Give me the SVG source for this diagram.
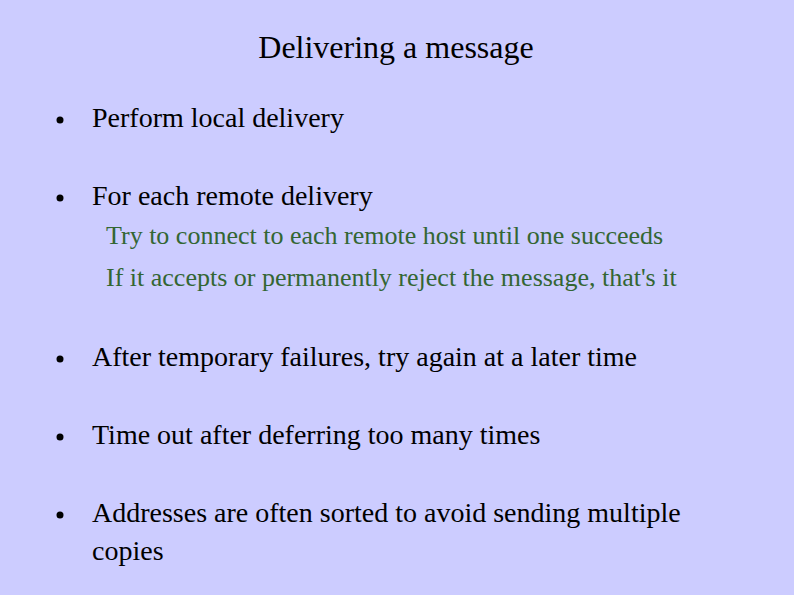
<svg xmlns="http://www.w3.org/2000/svg" width="794" height="595" viewBox="0 0 794 595">
<style>
text{font-family:"Liberation Serif",serif;fill:#000}
.b{font-size:28px}
.s{font-size:26px;fill:#336633}
</style>
<rect width="794" height="595" fill="#ccccff"/>
<text x="396" y="58" text-anchor="middle" font-size="32">Delivering a message</text>
<g fill="#000"><circle cx="60" cy="120" r="3.5"/><circle cx="60" cy="198" r="3.5"/><circle cx="60" cy="359" r="3.5"/><circle cx="60" cy="437" r="3.5"/><circle cx="60" cy="515" r="3.5"/></g>
<text class="b" x="92" y="127">Perform local delivery</text>
<text class="b" x="92" y="205">For each remote delivery</text>
<text class="s" x="106" y="244">Try to connect to each remote host until one succeeds</text>
<text class="s" x="106" y="286">If it accepts or permanently reject the message, that's it</text>
<text class="b" x="92" y="366">After temporary failures, try again at a later time</text>
<text class="b" x="92" y="444">Time out after deferring too many times</text>
<text class="b" x="92" y="522">Addresses are often sorted to avoid sending multiple</text>
<text class="b" x="92" y="560">copies</text>
</svg>
